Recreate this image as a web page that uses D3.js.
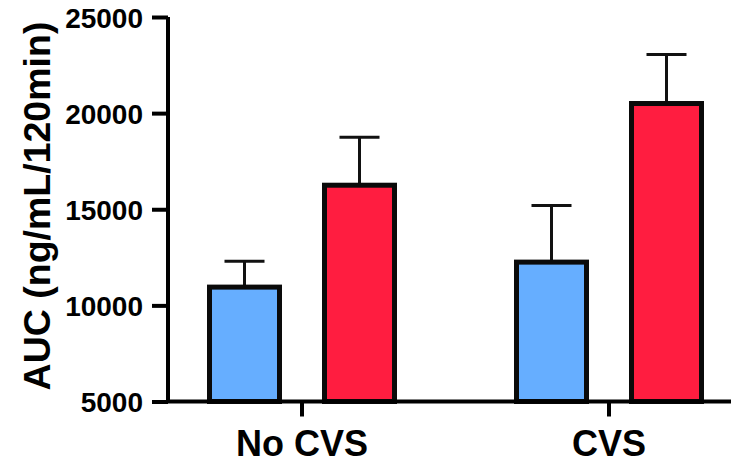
<!DOCTYPE html>
<html>
<head>
<meta charset="utf-8">
<script src="https://cdn.jsdelivr.net/npm/d3@7"></script>
<style>
  html, body { margin: 0; padding: 0; background: #fff; }
  svg { display: block; font-family: "Liberation Sans", Arial, sans-serif; font-weight: bold; }
</style>
</head>
<body>
<script>
const categories = ["No CVS", "CVS"];
const seriesNames = ["Series A", "Series B"];
const seriesAMeans = [10950, 12250];
const seriesAErr = [1350, 2950];
const seriesBMeans = [16250, 20500];
const seriesBErr = [2500, 2550];
const yTicks = [5000, 10000, 15000, 20000, 25000];
const yLabel = "AUC (ng/mL/120min)";
const colors = ["#66AEFF", "#FF1D40"];

const W = 731, H = 465;
const svg = d3.select("body").append("svg").attr("width", W).attr("height", H);

const y = d3.scaleLinear().domain([5000, 25000]).range([401.5, 17]);
const x = d3.scaleBand().domain(categories).range([148.5, 762.5]).padding(0);
const xs = d3.scaleBand().domain(seriesNames).range([-92.5, 92.5]).paddingInner(45 / 115).paddingOuter(0);

const data = [];
categories.forEach((c, i) => {
  data.push({ cat: c, s: seriesNames[0], mean: seriesAMeans[i], err: seriesAErr[i], color: colors[0] });
  data.push({ cat: c, s: seriesNames[1], mean: seriesBMeans[i], err: seriesBErr[i], color: colors[1] });
});
const cx = d => x(d.cat) + x.bandwidth() / 2 + xs(d.s) + xs.bandwidth() / 2;

// error bars
const eb = svg.append("g").attr("stroke", "#111").attr("stroke-width", 3);
eb.selectAll("line.v").data(data).join("line").attr("class", "v")
  .attr("x1", cx).attr("x2", cx)
  .attr("y1", d => y(d.mean)).attr("y2", d => y(d.mean + d.err));
eb.selectAll("line.c").data(data).join("line").attr("class", "c")
  .attr("x1", d => cx(d) - 20).attr("x2", d => cx(d) + 20)
  .attr("y1", d => y(d.mean + d.err)).attr("y2", d => y(d.mean + d.err));

// bars
svg.append("g").selectAll("rect").data(data).join("rect")
  .attr("x", d => cx(d) - xs.bandwidth() / 2)
  .attr("width", xs.bandwidth())
  .attr("y", d => y(d.mean))
  .attr("height", d => y(5000) - y(d.mean))
  .attr("fill", d => d.color)
  .attr("stroke", "#0a0a0a")
  .attr("stroke-width", 5);

// y axis
const yAxis = svg.append("g").attr("transform", "translate(168,0)")
  .call(d3.axisLeft(y).tickValues(yTicks).tickSize(16).tickPadding(9).tickFormat(d3.format("d")));
yAxis.select(".domain").attr("stroke", "#000").attr("stroke-width", 4).attr("d", `M0,${y(25000)}V${y(5000)}`);
yAxis.selectAll(".tick line").attr("stroke", "#000").attr("stroke-width", 4);
yAxis.selectAll(".tick text").attr("fill", "#000").style("font-size", "28px").style("font-family", "Liberation Sans, Arial, sans-serif").style("font-weight", "bold").attr("dy", "0.36em");

// x axis
const xAxis = svg.append("g").attr("transform", `translate(0,${y(5000)})`)
  .call(d3.axisBottom(x).tickSize(15).tickPadding(14));
xAxis.select(".domain").attr("stroke", "#000").attr("stroke-width", 4).attr("d", `M166,0H731`);
xAxis.selectAll(".tick line").attr("stroke", "#000").attr("stroke-width", 4);
xAxis.selectAll(".tick text").attr("fill", "#000").style("font-size", "36px").style("font-family", "Liberation Sans, Arial, sans-serif").style("font-weight", "bold");

// y label
svg.append("text")
  .attr("transform", "translate(50,206) rotate(-90)")
  .attr("text-anchor", "middle")
  .style("font-size", "37.5px")
  .attr("fill", "#000")
  .text(yLabel);
</script>
</body>
</html>
